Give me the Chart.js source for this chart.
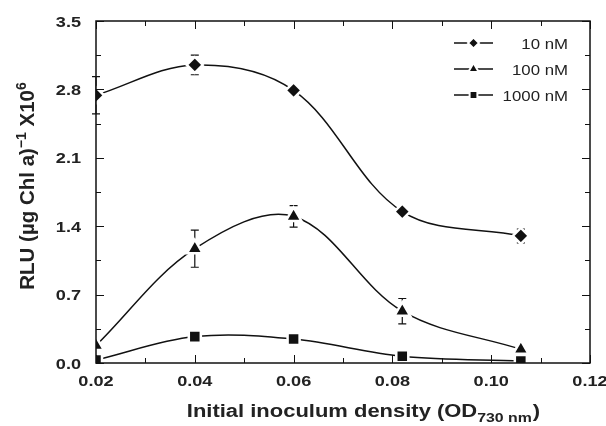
<!DOCTYPE html>
<html>
<head>
<meta charset="utf-8">
<script src="https://cdn.jsdelivr.net/npm/chart.js@4"></script>
<style>
  html, body { margin: 0; padding: 0; background: #fff; }
  #wrap { width: 606px; height: 426px; }
</style>
</head>
<body>
<div id="wrap"><canvas id="myChart"></canvas></div>
<script>
// data
const densities = [0.02, 0.04, 0.06, 0.082, 0.106];
const seriesLabels = ['10 nM', '100 nM', '1000 nM'];
const rlu10 = [2.74, 3.05, 2.79, 1.55, 1.30];
const rlu100 = [0.18, 1.17, 1.50, 0.53, 0.14];
const rlu1000 = [0.03, 0.27, 0.245, 0.07, 0.02];
const err10 = [0.19, 0.10, 0.04, 0, 0.07];
const err100 = [0, 0.19, 0.11, 0.13, 0];
const err1000 = [0, 0, 0, 0, 0];
const xTicks = [0.02, 0.04, 0.06, 0.08, 0.10, 0.12];
const yTicks = [0.0, 0.7, 1.4, 2.1, 2.8, 3.5];

const values = [rlu10, rlu100, rlu1000];
const errors = [err10, err100, err1000];
const markers = ['rectRot', 'triangle', 'rect'];
const markerSize = [8, 9, 8.5];
const legendSize = [5.5, 6, 5.5];

const ctx = document.getElementById('myChart').getContext('2d');
const FONT = '"Liberation Sans", Arial, sans-serif';
const INK = '#111111';
const TXT = '#222222';
const SX = 1.17; // the figure's lettering is a bit wide

// text drawn a little stretched sideways, like the source figure
function wideText(c, text, x, y, font, align, sx) {
  c.save();
  c.font = font;
  c.textAlign = align;
  c.translate(x, y);
  c.scale(sx, 1);
  c.fillText(text, 0, 0);
  c.restore();
}

const figurePlugin = {
  id: 'figure',
  beforeDatasetsDraw(chart) {
    const c = chart.ctx;
    const xs = chart.scales.x, ys = chart.scales.y;
    c.save();
    c.strokeStyle = INK;
    c.lineWidth = 1.2;
    chart.data.datasets.forEach((ds, i) => {
      ds.data.forEach((p, j) => {
        const e = errors[i][j];
        if (!e) return;
        const px = xs.getPixelForValue(p.x);
        const top = ys.getPixelForValue(p.y + e);
        const bot = ys.getPixelForValue(p.y - e);
        c.beginPath();
        c.moveTo(px, top); c.lineTo(px, bot);
        c.moveTo(px - 4, top); c.lineTo(px + 4, top);
        c.moveTo(px - 4, bot); c.lineTo(px + 4, bot);
        c.stroke();
      });
    });
    c.restore();
  },
  afterDraw(chart) {
    const c = chart.ctx;
    const a = chart.chartArea;
    const xs = chart.scales.x, ys = chart.scales.y;
    c.save();
    c.strokeStyle = INK;
    c.lineWidth = 1.5;
    c.strokeRect(a.left, a.top, a.right - a.left, a.bottom - a.top);

    // inward ticks on all four sides
    c.lineWidth = 1;
    c.beginPath();
    for (let k = 0; k <= 10; k++) {
      const v = 0.02 + k * 0.01;
      const px = Math.round(xs.getPixelForValue(v)) + 0.5;
      const len = k % 2 === 0 ? 8 : 5;
      c.moveTo(px, a.bottom); c.lineTo(px, a.bottom - len);
      c.moveTo(px, a.top); c.lineTo(px, a.top + len);
    }
    for (let k = 0; k <= 10; k++) {
      const v = k * 0.35;
      const py = Math.round(ys.getPixelForValue(v)) + 0.5;
      const len = k % 2 === 0 ? 8 : 5;
      c.moveTo(a.left, py); c.lineTo(a.left + len, py);
      c.moveTo(a.right, py); c.lineTo(a.right - len, py);
    }
    c.stroke();

    // tick labels
    c.fillStyle = TXT;
    const tickFont = 'bold 15.5px ' + FONT;
    c.textBaseline = 'alphabetic';
    xTicks.forEach(v => wideText(c, v.toFixed(2), xs.getPixelForValue(v), a.bottom + 23, tickFont, 'center', SX));
    yTicks.forEach(v => wideText(c, v.toFixed(1), a.left - 15, ys.getPixelForValue(v) + 5.5, tickFont, 'right', SX));

    // x title with subscript
    const big = 'bold 18px ' + FONT, small = 'bold 13px ' + FONT;
    const p1 = 'Initial inoculum density (OD', p2 = '730 nm', p3 = ')';
    const XS = 1.22;
    c.font = big; const w1 = c.measureText(p1).width * XS, w3 = c.measureText(p3).width * XS;
    c.font = small; const w2 = c.measureText(p2).width * XS;
    const x0 = 363 - (w1 + w2 + w3) / 2;
    const yb = 417;
    wideText(c, p1, x0, yb, big, 'left', XS);
    wideText(c, p2, x0 + w1, yb + 5, small, 'left', XS);
    wideText(c, p3, x0 + w1 + w2 + 1, yb, big, 'left', XS);

    // y title with superscripts
    c.save();
    c.translate(34, 186);
    c.rotate(-Math.PI / 2);
    const q1 = 'RLU (\u00b5g Chl a)', q2 = '\u22121', q3 = ' X10', q4 = '6';
    const bigY = 'bold 20.5px ' + FONT, smallY = 'bold 14px ' + FONT;
    c.font = bigY; const v1 = c.measureText(q1).width, v3 = c.measureText(q3).width;
    c.font = smallY; const v2 = c.measureText(q2).width, v4 = c.measureText(q4).width;
    let s = -(v1 + v2 + v3 + v4) / 2;
    c.textAlign = 'left';
    c.font = bigY; c.fillText(q1, s, 0); s += v1;
    c.font = smallY; c.fillText(q2, s, -8); s += v2;
    c.font = bigY; c.fillText(q3, s, 0); s += v3;
    c.font = smallY; c.fillText(q4, s, -8);
    c.restore();

    // legend
    const rowY = [43, 69, 95];
    chart.data.datasets.forEach((ds, i) => {
      const y = rowY[i];
      c.strokeStyle = INK;
      c.lineWidth = 1.5;
      c.beginPath();
      c.moveTo(454, y); c.lineTo(493, y);
      c.stroke();
      c.fillStyle = INK;
      c.strokeStyle = '#fff';
      c.lineWidth = 2;
      Chart.helpers.drawPoint(c, { pointStyle: markers[i], radius: legendSize[i], borderWidth: 2 }, 473.5, y);
      c.fillStyle = TXT;
      c.textBaseline = 'alphabetic';
      wideText(c, ds.label, 568, y + 5.5, '15px ' + FONT, 'right', 1.12);
    });
    c.restore();
  }
};

new Chart(ctx, {
  type: 'line',
  data: {
    datasets: seriesLabels.map((label, i) => ({
      label: label,
      data: densities.map((d, j) => ({ x: d, y: values[i][j] })),
      borderColor: INK,
      borderWidth: 1.5,
      tension: 0.35,
      pointStyle: markers[i],
      pointRadius: markerSize[i],
      pointBackgroundColor: INK,
      pointBorderColor: '#ffffff',
      pointBorderWidth: 2.5,
      fill: false
    }))
  },
  options: {
    responsive: true,
    maintainAspectRatio: false,
    animation: false,
    layout: { padding: { top: 21, right: 16, left: 0, bottom: 0 } },
    scales: {
      x: {
        type: 'linear',
        min: 0.02,
        max: 0.12,
        afterBuildTicks: s => { s.ticks = xTicks.map(v => ({ value: v })); },
        afterFit: s => { s.height = 63; },
        grid: { display: false, drawTicks: false },
        border: { display: false },
        ticks: { display: false }
      },
      y: {
        min: 0,
        max: 3.5,
        afterBuildTicks: s => { s.ticks = yTicks.map(v => ({ value: v })); },
        afterFit: s => { s.width = 96; },
        grid: { display: false, drawTicks: false },
        border: { display: false },
        ticks: { display: false }
      }
    },
    plugins: {
      legend: { display: false },
      tooltip: { enabled: false }
    }
  },
  plugins: [figurePlugin]
});
</script>
</body>
</html>
